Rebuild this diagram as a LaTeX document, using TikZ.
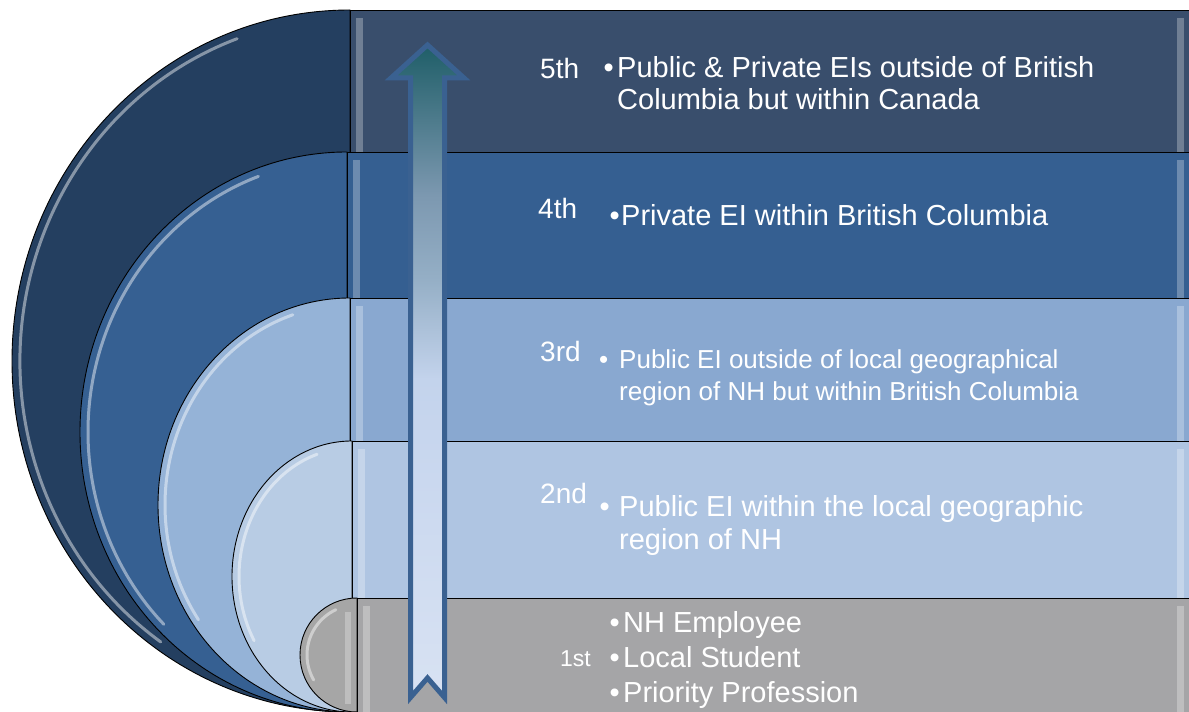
\documentclass[tikz,border=0pt]{standalone}
\usepackage{fontspec}
\setmainfont{Liberation Sans}
\usetikzlibrary{calc}
\definecolor{a5}{HTML}{243F60}
\definecolor{r5}{HTML}{394E6C}
\definecolor{a4}{HTML}{366092}
\definecolor{r4}{HTML}{355F91}
\definecolor{a3}{HTML}{95B3D7}
\definecolor{r3}{HTML}{89A8D0}
\definecolor{a2}{HTML}{B8CCE4}
\definecolor{r2}{HTML}{AFC5E2}
\definecolor{a1}{HTML}{A6A6A6}
\definecolor{r1}{HTML}{A5A5A7}
\definecolor{arrowline}{HTML}{3A6191}
\definecolor{sA}{HTML}{D8E2F3}
\definecolor{sB}{HTML}{CAD8EF}
\definecolor{sC}{HTML}{C3D3EC}
\definecolor{sD}{HTML}{95AFC6}
\definecolor{sE}{HTML}{7C98B0}
\definecolor{sF}{HTML}{1F5E68}
\pgfdeclareverticalshading{arrowshade}{100bp}{color(0bp)=(sA); color(25bp)=(sA); color(41.7bp)=(sB); color(49.4bp)=(sC); color(57bp)=(sD); color(63.5bp)=(sE); color(75bp)=(sF); color(100bp)=(sF)}
\tikzset{
  halfdisc/.style={draw=black, line width=0.9pt},
  band/.style={draw=black, line width=0.9pt},
  gloss/.style={draw=white, line width=3pt, opacity=0.45, line cap=round},
  bevel/.style={fill=white, opacity=0.28, draw=none},
  lbl/.style={text=white, anchor=base west, inner sep=0pt, font=\fontsize{28}{32}\selectfont},
  txt/.style={text=white, anchor=base west, inner sep=0pt, font=\fontsize{29}{32}\selectfont},
  uparrow/.style={draw=arrowline, line width=5pt, line join=miter, shading=arrowshade},
}
\begin{document}
\begin{tikzpicture}[x=1pt,y=1pt]
\useasboundingbox (0,0) rectangle (1189,712);
\begin{scope}
\clip (0,0) rectangle (1189,712);
% ---------- row 5
\coordinate (c5) at (350,351);
\draw[halfdisc, fill=a5] (350,702) arc[start angle=90, end angle=270, x radius=338pt, y radius=351pt] -- cycle;
\draw[gloss] ([shift={(110:330pt and 343pt)}]c5) arc[start angle=110, end angle=235, x radius=330pt, y radius=343pt];
\draw[band, fill=r5] (350,560) rectangle (1195,702);
\fill[bevel] (356,556) rectangle (363,694);
\fill[bevel] (1177,556) rectangle (1184,694);
% ---------- row 4
\coordinate (c4) at (347,280);
\draw[halfdisc, fill=a4] (347,560) arc[start angle=90, end angle=270, x radius=267pt, y radius=280pt] -- cycle;
\draw[gloss] ([shift={(110:259pt and 272pt)}]c4) arc[start angle=110, end angle=225, x radius=259pt, y radius=272pt];
\draw[band, fill=r4] (347,414) rectangle (1195,560);
\fill[bevel] (353,410) rectangle (360,552);
\fill[bevel] (1177,410) rectangle (1184,552);
% ---------- row 3
\coordinate (c3) at (350,207);
\draw[halfdisc, fill=a3] (350,414) arc[start angle=90, end angle=270, x radius=192pt, y radius=207pt] -- cycle;
\draw[gloss] ([shift={(108:185pt and 200pt)}]c3) arc[start angle=108, end angle=215, x radius=185pt, y radius=200pt];
\draw[band, fill=r3] (350,271) rectangle (1195,414);
\fill[bevel] (356,267) rectangle (363,406);
\fill[bevel] (1177,267) rectangle (1184,406);
% ---------- row 2
\coordinate (c2) at (352,135.5);
\draw[halfdisc, fill=a2] (352,271) arc[start angle=90, end angle=270, x radius=120pt, y radius=135.5pt] -- cycle;
\draw[gloss] ([shift={(108:113pt and 128.5pt)}]c2) arc[start angle=108, end angle=210, x radius=113pt, y radius=128.5pt];
\draw[band, fill=r2] (352,114) rectangle (1195,271);
\fill[bevel] (358,110) rectangle (365,263);
\fill[bevel] (1177,110) rectangle (1184,263);
% ---------- row 1
\coordinate (c1) at (357,57);
\draw[halfdisc, fill=a1] (357,114) arc[start angle=90, end angle=270, x radius=57pt, y radius=57pt] -- cycle;
\draw[gloss] ([shift={(115:50pt and 50pt)}]c1) arc[start angle=115, end angle=210, x radius=50pt, y radius=50pt];
\fill[bevel] (345,8) rectangle (351,100);
\draw[band, fill=r1] (357,-5) rectangle (1195,114);
\fill[bevel] (363,-5) rectangle (370,106);
\fill[bevel] (1177,-5) rectangle (1184,106);
% ---------- arrow
\draw[uparrow] (410.5,14.5) -- (410.5,634) -- (391,634) -- (427.5,667) -- (464,634)
  -- (444.5,634) -- (444.5,14.5) -- (427.5,34) -- cycle;
\end{scope}
% ---------- texts
\node[lbl] (n5) at (540,633) {5th};
\node[txt] (t5a) at (617,634) {\llap{\textbullet\hspace{3.5pt}}Public \& Private EIs outside of British};
\node[txt] (t5b) at (617,602) {Columbia but within Canada};
\node[lbl] (n4) at (538,493) {4th};
\node[txt] (t4a) at (621,486.5) {\llap{\textbullet\hspace{1.5pt}}Private EI within British Columbia};
\node[lbl] (n3) at (540,350) {3rd};
\node[txt, font=\fontsize{26}{32}\selectfont] (t3a) at (619,343) {\llap{\textbullet\hspace{11pt}}Public EI outside of local geographical};
\node[txt, font=\fontsize{26}{32}\selectfont] (t3b) at (619,311) {region of NH but within British Columbia};
\node[lbl] (n2) at (540,208) {2nd};
\node[txt] (t2a) at (619,195) {\llap{\textbullet\hspace{9.5pt}}Public EI within the local geographic};
\node[txt] (t2b) at (619,162) {region of NH};
\node[lbl, font=\fontsize{23}{26}\selectfont] (n1) at (560,45) {1st};
\node[txt] (t1a) at (623,79) {\llap{\textbullet\hspace{3.5pt}}NH Employee};
\node[txt] (t1b) at (623,44) {\llap{\textbullet\hspace{3.5pt}}Local Student};
\node[txt] (t1c) at (623,9) {\llap{\textbullet\hspace{3.5pt}}Priority Profession};
\end{tikzpicture}
\end{document}
